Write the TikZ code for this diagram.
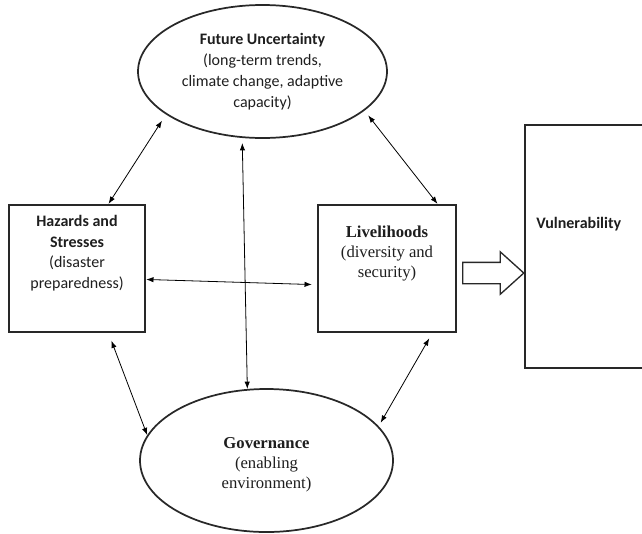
\documentclass[tikz,border=0pt]{standalone}
\usepackage{fontspec}
\setmainfont{Liberation Serif}
\newfontfamily\calibri{Carlito}
\usetikzlibrary{positioning,arrows.meta,calc,shapes.geometric,shapes.arrows}
\definecolor{frameline}{RGB}{40,40,40}
\definecolor{inktext}{RGB}{30,30,30}
\tikzset{
  sqbox/.style={draw=frameline, line width=1.7pt, minimum height=95.25pt, inner sep=0pt},
  oval/.style={ellipse, draw=frameline, line width=1.3pt, inner sep=0pt, align=center},
  sanstxt/.style={align=center, inner sep=0pt, text=inktext, font=\calibri\fontsize{12}{15.6}\selectfont},
  seriftxt/.style={align=center, inner sep=0pt, text=inktext, font=\fontsize{12.5}{15}\selectfont},
  link/.style={{Latex[length=5.5pt,width=4pt]}-{Latex[length=5.5pt,width=4pt]}, line width=0.6pt, black},
  fatarrow/.style={single arrow, draw=frameline, line width=1pt, inner sep=0pt, text height=7.5pt, text depth=7.5pt,
    minimum height=45.75pt, single arrow head extend=7.9pt, single arrow tip angle=84}
}
\begin{document}
\begin{tikzpicture}[x=0.75pt, y=-0.75pt]
  \useasboundingbox (0,0) rectangle (642,533);
  % four factors
  \node[oval, sanstxt, minimum width=186.75pt, minimum height=99.75pt] (fut) at (262.5,71.5)
    {\textbf{Future Uncertainty}\\(long-term trends,\\climate change, adaptive\\capacity)};
  \node[sqbox, minimum width=102pt] (haz) at (77,268.5) {};
  \node[sanstxt, anchor=north, yshift=-8.25pt] (haztxt) at (haz.north)
    {\textbf{Hazards and}\\\textbf{Stresses}\\(disaster\\preparedness)};
  \node[sqbox, minimum width=103.5pt] (liv) at (387,268.5) {};
  \node[seriftxt, anchor=north, yshift=-16.5pt] (livtxt) at (liv.north)
    {\textbf{Livelihoods}\\(diversity and\\security)};
  \node[oval, minimum width=189.75pt, minimum height=107.25pt] (gov) at (266.5,460.5) {};
  \node[seriftxt, yshift=-3pt] (govtxt) at (gov.center)
    {\textbf{Governance}\\(enabling\\environment)};
  % outcome
  \node[draw=frameline, line width=1.5pt, minimum width=90.75pt, minimum height=182.25pt, inner sep=0pt] (vul) at (585.5,246.5) {};
  \node[sanstxt, anchor=west] (vultxt) at ($(vul.north west)+(12,100)$) {\textbf{Vulnerability}};
  \node[fatarrow, right=3.75pt of liv.east, yshift=-3.4pt] (push) {};
  % links
  \draw[link, shorten >=5.5pt] (haz.64) -- (fut.204);
  \draw[link, shorten <=4.5pt] (fut.339) -- (liv.52);
  \draw[link, shorten <=3.75pt] (fut.253) -- (gov.105);
  \draw[link, shorten >=3.75pt] (haz.-9) -- (liv.193);
  \draw[link, shorten <=6pt] (haz.-64) -- (gov.168);
  \draw[link, shorten <=4.5pt, shorten >=3pt] (liv.-55) -- (gov.17);
\end{tikzpicture}
\end{document}
